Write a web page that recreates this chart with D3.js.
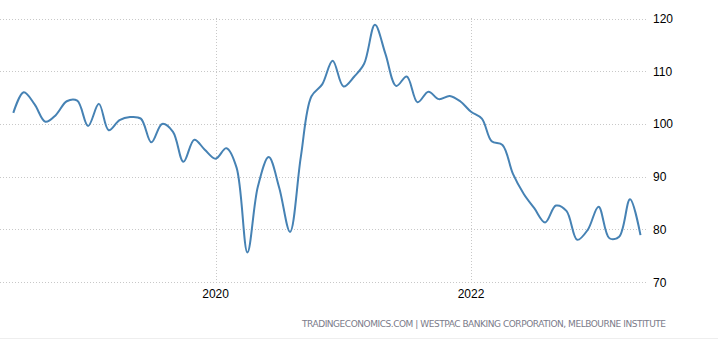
<!DOCTYPE html>
<html>
<head>
  <meta charset="utf-8">
  <title>Westpac Consumer Confidence</title>
  <script src="https://d3js.org/d3.v7.min.js"></script>
  <style>
    body { margin: 0; background: #fff; }
    svg { display: block; }
  </style>
</head>
<body>
  <svg id="chart"></svg>

  <script>
    // monthly index values, Jun 2018 .. May 2023
    let startMonth = "2018-06";
    let values = [
      102.1, 106.0, 103.7, 100.4, 101.7, 104.3, 104.4,
      99.6, 103.8, 98.8, 100.7, 101.3, 101.0, 96.5, 100.0, 98.5, 92.8, 97.0, 95.1,
      93.4, 95.4, 91.7, 75.6, 88.1, 93.7, 87.9, 79.5, 93.8, 105.2, 107.5, 112.0,
      107.1, 109.0, 111.4, 118.8, 113.3, 107.2, 109.0, 104.1, 106.1, 104.7, 105.3, 104.3,
      102.3, 101.0, 96.7, 96.0, 90.5, 86.7, 84.0, 81.3, 84.5, 83.5, 78.0, 79.9,
      84.3, 78.3, 78.6, 85.7, 78.9
    ];
    let yTicks = [70, 80, 90, 100, 110, 120];
    let xTickYears = ["2020", "2022"];
    let source = "TRADINGECONOMICS.COM  |  WESTPAC BANKING CORPORATION, MELBOURNE INSTITUTE";

    let width = 718, height = 352;
    let parseMonth = d3.timeParse("%Y-%m");
    let t0 = parseMonth(startMonth);
    let data = values.map(function(v, i) {
      return { date: d3.timeMonth.offset(t0, i), value: v };
    });

    let svg = d3.select("#chart")
      .attr("width", width)
      .attr("height", height);

    let x = d3.scaleTime()
      .domain([data[0].date, data[data.length - 1].date])
      .range([13.3, 640.5]);

    let y = d3.scaleLinear()
      .domain([70, 120])
      .range([282, 18.5]);

    // horizontal grid
    svg.append("g")
      .selectAll("line")
      .data(yTicks)
      .enter()
      .append("line")
      .attr("x1", 0)
      .attr("x2", 648)
      .attr("y1", function(d) { return Math.round(y(d)) + 0.5; })
      .attr("y2", function(d) { return Math.round(y(d)) + 0.5; })
      .attr("stroke", "#c8c8c8")
      .attr("stroke-width", 1)
      .attr("stroke-dasharray", "1,2");

    // vertical grid at year ticks
    let yearDates = xTickYears.map(function(s) { return d3.timeParse("%Y")(s); });
    svg.append("g")
      .selectAll("line")
      .data(yearDates)
      .enter()
      .append("line")
      .attr("x1", function(d) { return Math.round(x(d)) + 0.5; })
      .attr("x2", function(d) { return Math.round(x(d)) + 0.5; })
      .attr("y1", 18)
      .attr("y2", 285)
      .attr("stroke", "#c8c8c8")
      .attr("stroke-width", 1)
      .attr("stroke-dasharray", "1,2");

    // right axis labels
    svg.append("g")
      .selectAll("text")
      .data(yTicks)
      .enter()
      .append("text")
      .attr("x", 653)
      .attr("y", function(d) { return y(d) + 4.5; })
      .attr("font-family", "Liberation Sans, Arial, sans-serif")
      .attr("font-size", "12px")
      .attr("fill", "#000")
      .text(function(d) { return d; });

    // year labels
    svg.append("g")
      .selectAll("text")
      .data(yearDates)
      .enter()
      .append("text")
      .attr("x", function(d) { return x(d); })
      .attr("y", 298)
      .attr("text-anchor", "middle")
      .attr("font-family", "Liberation Sans, Arial, sans-serif")
      .attr("font-size", "12px")
      .attr("fill", "#000")
      .text(function(d) { return d3.timeFormat("%Y")(d); });

    // the series, smoothed like a spline
    let line = d3.line()
      .x(function(d) { return x(d.date); })
      .y(function(d) { return y(d.value); })
      .curve(d3.curveCatmullRom.alpha(0.5));

    svg.append("path")
      .datum(data)
      .attr("d", line)
      .attr("fill", "none")
      .attr("stroke", "#4682b4")
      .attr("stroke-width", 2)
      .attr("stroke-linejoin", "round");

    // source note
    svg.append("text")
      .attr("x", 666)
      .attr("y", 327)
      .attr("text-anchor", "end")
      .attr("font-family", "DejaVu Sans, sans-serif")
      .attr("font-size", "9px")
      .attr("fill", "#7b7b8a")
      .attr("textLength", 364)
      .attr("lengthAdjust", "spacing")
      .text(source);

    // bottom separator
    svg.append("line")
      .attr("x1", 0)
      .attr("x2", width)
      .attr("y1", 338.5)
      .attr("y2", 338.5)
      .attr("stroke", "#eeeeee")
      .attr("stroke-width", 1);
  </script>
</body>
</html>
